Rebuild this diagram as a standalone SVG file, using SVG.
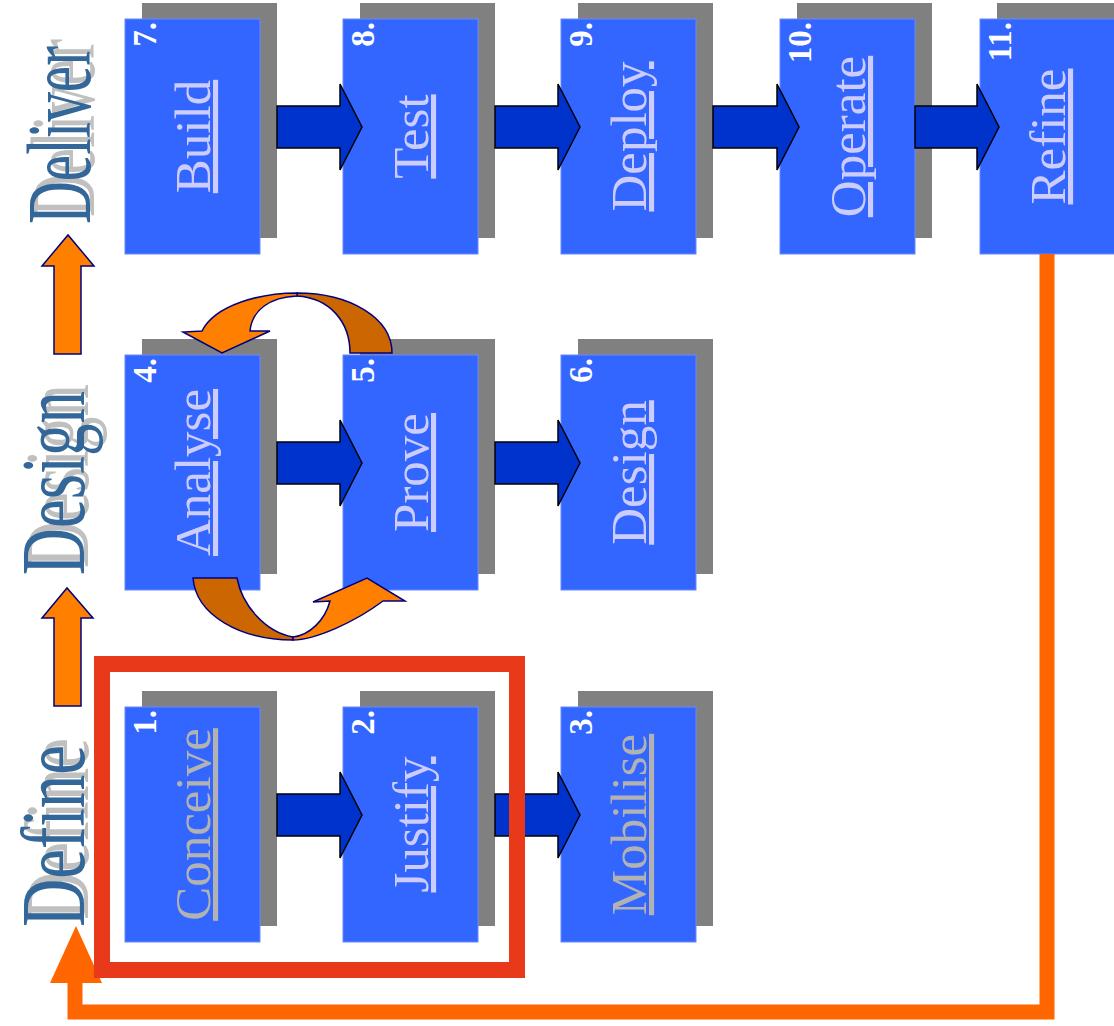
<svg xmlns="http://www.w3.org/2000/svg" width="1114" height="1026" viewBox="0 0 1114 1026">
<style>
.shadow{fill:#808080}
.box{fill:#3366FF;stroke:#6688FF;stroke-width:1}
.num{font-family:"Liberation Serif",serif;font-weight:bold;font-size:33px;fill:#FFFFFF;text-anchor:end}
.lbl{font-family:"Liberation Serif",serif;font-size:51px;fill:#CCCCFF;text-anchor:middle;text-decoration:underline}
.gray{fill:#B2B2B2}
.blk{fill:#0033CC;stroke:#000000;stroke-width:1.5;stroke-linejoin:miter}
.cdark{fill:#CC6600;stroke:#000080;stroke-width:1.5}
.cbright{fill:#FF8000;stroke:#000080;stroke-width:1.5}
.up{fill:#FF8000;stroke:#000080;stroke-width:1.5}
.phase{font-family:"Liberation Serif",serif;font-size:92px}
.phs{fill:#C0C0C0}
.phb{fill:#336699}
</style>

<g id="node-1">
<rect class="shadow" x="142" y="691" width="135" height="235"/>
<rect class="box" x="125" y="707" width="135" height="235"/>
<text class="num" transform="translate(156,710) rotate(-90)">1.</text>
<text class="lbl gray" transform="translate(210,824.5) rotate(-90)">Conceive</text>
</g>
<g id="node-2">
<rect class="shadow" x="360" y="691" width="135" height="235"/>
<rect class="box" x="343" y="707" width="135" height="235"/>
<text class="num" transform="translate(374,710) rotate(-90)">2.</text>
<text class="lbl" transform="translate(428,824.5) rotate(-90)">Justify</text>
</g>
<g id="node-3">
<rect class="shadow" x="578" y="691" width="135" height="235"/>
<rect class="box" x="561" y="707" width="135" height="235"/>
<text class="num" transform="translate(592,710) rotate(-90)">3.</text>
<text class="lbl gray" transform="translate(646,824.5) rotate(-90)">Mobilise</text>
</g>
<g id="node-4">
<rect class="shadow" x="142" y="339" width="135" height="235"/>
<rect class="box" x="125" y="355" width="135" height="235"/>
<text class="num" transform="translate(156,358) rotate(-90)">4.</text>
<text class="lbl" transform="translate(210,472.5) rotate(-90)">Analyse</text>
</g>
<g id="node-5">
<rect class="shadow" x="360" y="339" width="135" height="235"/>
<rect class="box" x="343" y="355" width="135" height="235"/>
<text class="num" transform="translate(374,358) rotate(-90)">5.</text>
<text class="lbl" transform="translate(428,472.5) rotate(-90)">Prove</text>
</g>
<g id="node-6">
<rect class="shadow" x="578" y="339" width="135" height="235"/>
<rect class="box" x="561" y="355" width="135" height="235"/>
<text class="num" transform="translate(592,358) rotate(-90)">6.</text>
<text class="lbl" transform="translate(646,472.5) rotate(-90)">Design</text>
</g>
<g id="node-7">
<rect class="shadow" x="142" y="3" width="135" height="235"/>
<rect class="box" x="125" y="19" width="135" height="235"/>
<text class="num" transform="translate(156,22) rotate(-90)">7.</text>
<text class="lbl" transform="translate(210,136.5) rotate(-90)">Build</text>
</g>
<g id="node-8">
<rect class="shadow" x="360" y="3" width="135" height="235"/>
<rect class="box" x="343" y="19" width="135" height="235"/>
<text class="num" transform="translate(374,22) rotate(-90)">8.</text>
<text class="lbl" transform="translate(428,136.5) rotate(-90)">Test</text>
</g>
<g id="node-9">
<rect class="shadow" x="578" y="3" width="135" height="235"/>
<rect class="box" x="561" y="19" width="135" height="235"/>
<text class="num" transform="translate(592,22) rotate(-90)">9.</text>
<text class="lbl" transform="translate(646,136.5) rotate(-90)">Deploy</text>
</g>
<g id="node-10">
<rect class="shadow" x="797" y="3" width="135" height="235"/>
<rect class="box" x="780" y="19" width="135" height="235"/>
<text class="num" transform="translate(811,22) rotate(-90)">10.</text>
<text class="lbl" transform="translate(865,136.5) rotate(-90)">Operate</text>
</g>
<g id="node-11">
<rect class="shadow" x="997" y="3" width="135" height="235"/>
<rect class="box" x="980" y="19" width="135" height="235"/>
<text class="num" transform="translate(1011,22) rotate(-90)">11.</text>
<text class="lbl" transform="translate(1065,136.5) rotate(-90)">Refine</text>
</g>

<g id="connectors">
<path class="blk" d="M277 106 H340 V84 L362 127 L340 170 V148 H277 Z"/>
<path class="blk" d="M495 106 H558 V84 L580 127 L558 170 V148 H495 Z"/>
<path class="blk" d="M713 106 H777 V84 L799 127 L777 170 V148 H713 Z"/>
<path class="blk" d="M915 106 H977 V84 L999 127 L977 170 V148 H915 Z"/>
<path class="blk" d="M277 442 H340 V420 L362 463 L340 506 V484 H277 Z"/>
<path class="blk" d="M495 442 H558 V420 L580 463 L558 506 V484 H495 Z"/>
<path class="blk" d="M277 794 H340 V772 L362 815 L340 858 V836 H277 Z"/>
<path class="blk" d="M495 794 H558 V772 L580 815 L558 858 V836 H495 Z"/>

<path class="cdark" d="M350 353 L392 353 C392 318 350 293 297 293 L297 296 C330 298 350 322 350 353 Z"/>
<path class="cbright" d="M297 293 C260 293 215 305 202 331 L183 332 L222 353 L270 331 L250 331 C252 310 270 297 297 296 Z"/>
<path class="cdark" d="M193 578 L237 578 C242 605 265 632 293 637 L293 640 C240 640 196 615 193 578 Z"/>
<path class="cbright" d="M293 640 C315 640 355 622 383 601 L405 601 L367 578 L313 602 L330 601 C325 620 310 635 293 637 Z"/>

<path d="M1047 254 V1012 H75 V982" fill="none" stroke="#FF6600" stroke-width="15"/>
<polygon points="50,983 102,983 76,926" fill="#FF6600"/>

<polygon class="up" points="54,354 54,266 42,266 68,235 94,266 81,266 81,354"/>
<polygon class="up" points="54,706 54,618 42,618 67,588 93,618 81,618 81,706"/>
</g>

<rect x="102" y="664" width="415" height="306" fill="none" stroke="#E8391A" stroke-width="16"/>

<g id="phase-deliver">
<text class="phase phs" transform="translate(94,217) rotate(-90) scale(0.645,1)">Deliver</text>
<text class="phase phb" transform="translate(90,224) rotate(-90) scale(0.645,1)">Deliver</text>
</g>
<g id="phase-design">
<text class="phase phs" transform="translate(88,568) rotate(-90) scale(0.706,1)">Design</text>
<text class="phase phb" transform="translate(84,575) rotate(-90) scale(0.706,1)">Design</text>
</g>
<g id="phase-define">
<text class="phase phs" transform="translate(88,920) rotate(-90) scale(0.727,1)">Define</text>
<text class="phase phb" transform="translate(84,927) rotate(-90) scale(0.727,1)">Define</text>
</g>
</svg>
